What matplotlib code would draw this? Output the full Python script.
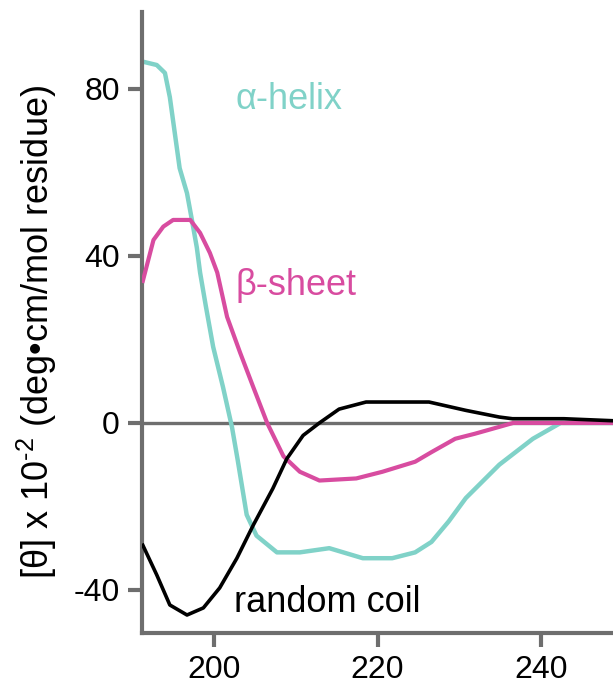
import matplotlib
matplotlib.use("Agg")
import matplotlib.pyplot as plt

plt.rcParams["font.family"] = ["Liberation Sans", "DejaVu Sans"]
plt.rcParams["axes.unicode_minus"] = False
plt.rcParams["mathtext.fontset"] = "custom"
plt.rcParams["mathtext.rm"] = "Liberation Sans"

# wavelength (nm) / mean residue ellipticity (x10^-2)
helix_x = [191.3, 193.0, 194.0, 194.6, 195.2, 195.8, 196.7, 197.3, 197.9, 198.3,
           199.0, 199.9, 201.1, 202.2, 202.9, 204.0, 205.2, 207.7, 210.5, 214.1,
           218.2, 221.8, 224.6, 226.6, 228.7, 230.8, 234.9, 239.0, 242.4, 249.0]
helix_y = [86.5, 85.7, 83.8, 78, 69.5, 61, 55, 48.6, 42, 36,
           28, 18.2, 8.6, -1, -8.9, -22, -27, -31, -31, -30,
           -32.4, -32.4, -31, -28.5, -23.6, -18, -10, -3.8, 0, 0]

sheet_x = [191.3, 192.6, 193.8, 195.0, 197.1, 198.3, 199.5, 200.4, 201.6, 203.2,
           204.8, 206.5, 208.5, 210.5, 212.9, 217.4, 220.6, 224.6, 226.6, 229.5,
           231.9, 234.8, 236.6, 249.0]
sheet_y = [34, 43.8, 47, 48.6, 48.6, 45.5, 40.7, 36, 25.4, 16.8,
           8.6, 0, -8, -11.7, -13.8, -13.3, -11.7, -9.3, -7, -3.8,
           -2.6, -1, 0, 0]

coil_x = [191.3, 193.0, 194.6, 196.7, 198.7, 200.7, 202.8, 204.8, 207.2, 208.9,
          210.9, 212.9, 215.3, 218.6, 222.5, 226.3, 230.8, 234.9, 236.5, 242.8,
          249.0]
coil_y = [-29.3, -36.4, -43.6, -46, -44.3, -39.5, -32.4, -24.5, -15.7, -8.6,
          -3, 0, 3.3, 5, 5, 5, 3, 1.4, 1, 1,
          0.5]

x_ticks = [200, 220, 240]
y_ticks = [-40, 0, 40, 80]

TEAL = "#80d2c8"
PINK = "#d84ca0"
GREY = "#6e6e6e"

fig = plt.figure(figsize=(6.13, 6.88), dpi=100)
ax = fig.add_axes([0.2317, 0.080, 0.7683, 0.9026])

ax.axhline(0, color=GREY, lw=2.4, zorder=1)
ax.plot(helix_x, helix_y, color=TEAL, lw=3.2, zorder=2)
ax.plot(sheet_x, sheet_y, color=PINK, lw=3.0, zorder=3)
ax.plot(coil_x, coil_y, color="black", lw=2.6, zorder=4)

ax.set_xlim(191.2, 248.8)
ax.set_ylim(-50.3, 98.4)
ax.set_xticks(x_ticks)
ax.set_yticks(y_ticks)

for s in ["top", "right"]:
    ax.spines[s].set_visible(False)
for s in ["left", "bottom"]:
    ax.spines[s].set_color(GREY)
    ax.spines[s].set_linewidth(3)
ax.tick_params(direction="out", length=10, width=3, color=GREY,
               labelsize=23, pad=6)

ax.text(202.6, 77.4, "\u03b1-helix", color=TEAL, fontsize=26, va="center")
ax.text(202.6, 33, "\u03b2-sheet", color=PINK, fontsize=26, va="center")
ax.text(202.5, -43, "random coil", color="black", fontsize=26, va="center")

ax.set_ylabel("[\u03b8] x 10$^{\\text{-2}}$ (deg\u2022cm/mol residue)", fontsize=26, va="center")
ax.yaxis.set_label_coords(-0.223, 0.485)

fig.savefig("out.png", dpi=100)
